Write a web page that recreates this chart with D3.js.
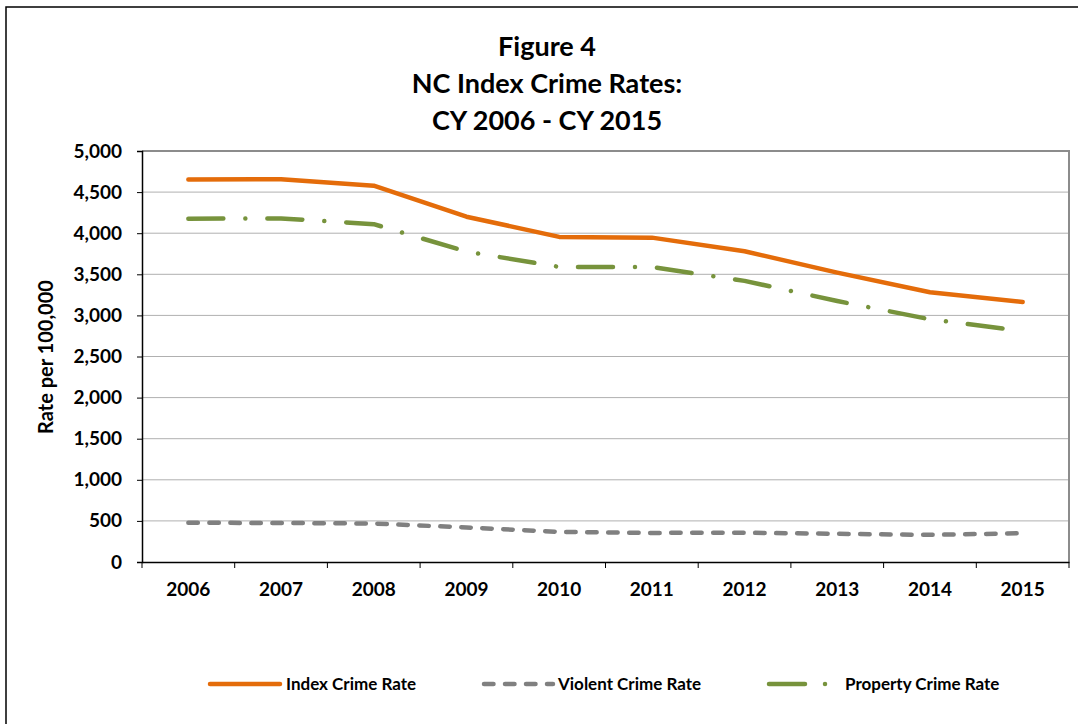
<!DOCTYPE html>
<html>
<head>
<meta charset="utf-8">
<script src="https://cdn.jsdelivr.net/npm/d3@7"></script>
<style>
  html, body { margin: 0; padding: 0; background: #fff; }
  svg { display: block; }
  text { font-family: Lato, "Open Sans", sans-serif; font-weight: bold; fill: #000; }
</style>
</head>
<body>
<svg id="chart" width="1078" height="724"></svg>
<script>
const years = ["2006","2007","2008","2009","2010","2011","2012","2013","2014","2015"];
const indexRate    = [4653, 4656, 4578, 4201, 3955, 3946, 3780, 3520, 3281, 3163];
const violentRate  = [477, 475, 468, 420, 366, 354, 356, 343, 330, 350];
const propertyRate = [4176, 4180, 4110, 3776, 3590, 3588, 3420, 3175, 2953, 2810];
const yTicks = [0, 500, 1000, 1500, 2000, 2500, 3000, 3500, 4000, 4500, 5000];
const titleLines = ["Figure 4", "NC Index Crime Rates:", "CY 2006 - CY 2015"];
const yTitle = "Rate per 100,000";
const seriesNames = ["Index Crime Rate", "Violent Crime Rate", "Property Crime Rate"];

const svg = d3.select("#chart");
const plot = { left: 142, right: 1069, top: 151, bottom: 562 };

// outer border
svg.append("rect").attr("x", 6).attr("y", 7).attr("width", 1200).attr("height", 900)
  .attr("fill", "none").attr("stroke", "#000").attr("stroke-width", 1.5);

const x = d3.scaleBand().domain(years).range([plot.left, plot.right]).padding(0);
const y = d3.scaleLinear().domain([0, 5000]).range([plot.bottom, plot.top]);
const cx = d => x(d) + x.bandwidth() / 2;

// gridlines
svg.append("g").selectAll("line").data(yTicks.filter(t => t > 0 && t < 5000)).join("line")
  .attr("x1", plot.left).attr("x2", plot.right)
  .attr("y1", d => y(d)).attr("y2", d => y(d))
  .attr("stroke", "#b0b0b0").attr("stroke-width", 1);

// plot frame top/right (grey)
svg.append("path")
  .attr("d", `M${plot.left},${y(5000)}H${plot.right}V${plot.bottom}`)
  .attr("fill", "none").attr("stroke", "#8c8c8c").attr("stroke-width", 2);

// y axis
const yAxis = d3.axisLeft(y).tickValues(yTicks).tickSize(5).tickPadding(15)
  .tickFormat(d3.format(","));
const gy = svg.append("g").attr("transform", `translate(${plot.left},0)`).call(yAxis);
gy.select(".domain").attr("stroke", "#000").attr("stroke-width", 1.5);
gy.selectAll(".tick line").attr("stroke", "#000");
gy.selectAll(".tick text").attr("font-size", 19).attr("font-family", "Lato, sans-serif")
  .attr("font-weight", "bold").attr("fill", "#000");

// x axis
const xAxis = d3.axisBottom(x).tickSize(0).tickPadding(21);
const gx = svg.append("g").attr("transform", `translate(0,${plot.bottom})`).call(xAxis);
gx.select(".domain").attr("stroke", "#000").attr("stroke-width", 1.5);
gx.selectAll(".tick text").attr("font-size", 19).attr("font-family", "Lato, sans-serif")
  .attr("font-weight", "bold").attr("fill", "#000");
// boundary tick marks
const bounds = years.map(d => x(d)).concat([plot.right]);
svg.append("g").selectAll("line").data(bounds).join("line")
  .attr("x1", d => d).attr("x2", d => d)
  .attr("y1", plot.bottom).attr("y2", plot.bottom + 6)
  .attr("stroke", "#000").attr("stroke-width", 1);

// lines
const line = d3.line().x((d, i) => cx(years[i])).y(d => y(d));
const styles = [
  { data: indexRate, color: "#E46C0A", dash: null },
  { data: violentRate, color: "#808080", dash: "9.5,11.5" },
  { data: propertyRate, color: "#77933C", dash: "35,22,0.01,22" }
];
styles.forEach(s => {
  svg.append("path").datum(s.data)
    .attr("d", line)
    .attr("fill", "none")
    .attr("stroke", s.color)
    .attr("stroke-width", 4.5)
    .attr("stroke-linecap", "round")
    .attr("stroke-linejoin", "round")
    .attr("stroke-dasharray", s.dash);
});

// title
const tg = svg.append("g");
titleLines.forEach((t, i) => {
  tg.append("text").attr("x", 547).attr("y", 56 + i * 37)
    .attr("text-anchor", "middle").attr("font-size", 27).text(t);
});

// y title
svg.append("text")
  .attr("transform", `translate(53,357) rotate(-90)`)
  .attr("text-anchor", "middle").attr("font-size", 20).text(yTitle);

// legend
const legendY = 684;
const legend = [
  { x0: 210, x1: 280, tx: 286, color: "#E46C0A", dash: null, name: seriesNames[0] },
  { x0: 484, x1: 553, tx: 558, color: "#808080", dash: "9.5,11.5", name: seriesNames[1] },
  { x0: 769, x1: 829, tx: 845, color: "#77933C", dash: "36,20,0.01,40", name: seriesNames[2] }
];
legend.forEach(l => {
  svg.append("line").attr("x1", l.x0).attr("x2", l.x1).attr("y1", legendY).attr("y2", legendY)
    .attr("stroke", l.color).attr("stroke-width", 4.5).attr("stroke-linecap", "round")
    .attr("stroke-dasharray", l.dash);
  svg.append("text").attr("x", l.tx).attr("y", legendY + 6).attr("font-size", 17).text(l.name);
});
</script>
</body>
</html>
